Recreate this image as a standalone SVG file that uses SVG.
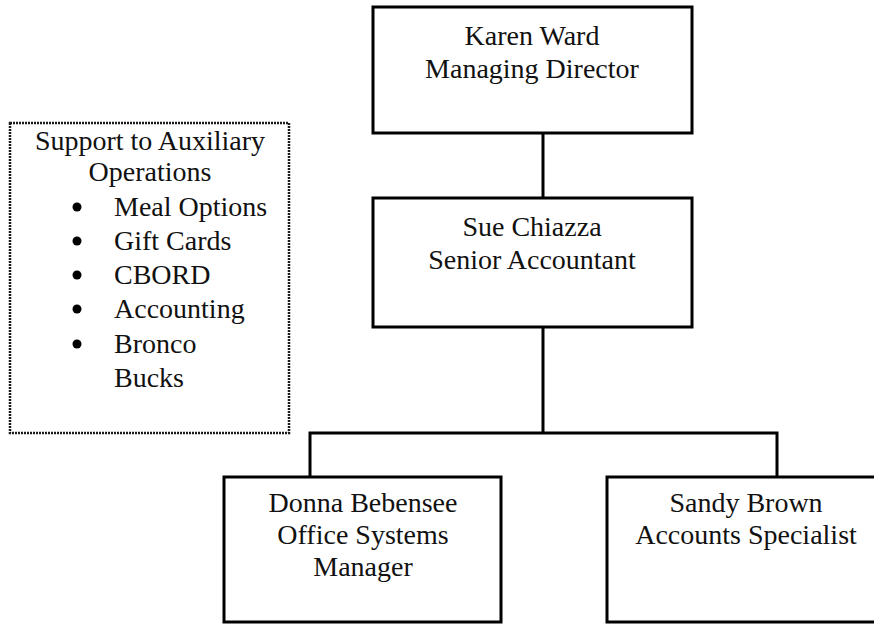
<svg xmlns="http://www.w3.org/2000/svg" width="874" height="624" viewBox="0 0 874 624">
  <style>
    .box { fill: #ffffff; stroke: #000000; stroke-width: 3; }
    .note { fill: #ffffff; stroke: #1a1a1a; stroke-width: 2.5; stroke-dasharray: 2 1; }
    .wire { fill: none; stroke: #000000; stroke-width: 3; }
    text { font-family: "Liberation Serif", "Times New Roman", serif; font-size: 28px; fill: #111111; }
    .c { text-anchor: middle; }
  </style>
  <rect width="874" height="624" fill="#ffffff"/>

  <!-- connectors -->
  <g id="connectors">
    <line class="wire" x1="543" y1="133" x2="543" y2="198"/>
    <line class="wire" x1="543" y1="327" x2="543" y2="433"/>
    <polyline class="wire" points="310,477 310,433 777,433 777,477"/>
  </g>

  <!-- side note listing supported operations -->
  <g id="support-note">
    <rect class="note" x="10" y="123" width="279" height="310"/>
    <text class="c" x="150" y="150">Support to Auxiliary</text>
    <text class="c" x="150" y="181">Operations</text>
    <g id="bullets">
      <circle cx="77" cy="207" r="4.5" fill="#000"/>
      <circle cx="77" cy="241" r="4.5" fill="#000"/>
      <circle cx="77" cy="275" r="4.5" fill="#000"/>
      <circle cx="77" cy="309" r="4.5" fill="#000"/>
      <circle cx="77" cy="344" r="4.5" fill="#000"/>
    </g>
    <text x="114" y="216">Meal Options</text>
    <text x="114" y="250">Gift Cards</text>
    <text x="114" y="284">CBORD</text>
    <text x="114" y="318">Accounting</text>
    <text x="114" y="353">Bronco</text>
    <text x="114" y="387">Bucks</text>
  </g>

  <g id="karen-ward">
    <rect class="box" x="373" y="7" width="319" height="126"/>
    <text class="c" x="532" y="45">Karen Ward</text>
    <text class="c" x="532" y="78">Managing Director</text>
  </g>

  <g id="sue-chiazza">
    <rect class="box" x="373" y="198" width="319" height="129"/>
    <text class="c" x="532" y="236">Sue Chiazza</text>
    <text class="c" x="532" y="269">Senior Accountant</text>
  </g>

  <g id="donna-bebensee">
    <rect class="box" x="224" y="477" width="277" height="145"/>
    <text class="c" x="363" y="512">Donna Bebensee</text>
    <text class="c" x="363" y="544">Office Systems</text>
    <text class="c" x="363" y="576">Manager</text>
  </g>

  <g id="sandy-brown">
    <rect class="box" x="607" y="477" width="290" height="145"/>
    <text class="c" x="746" y="512">Sandy Brown</text>
    <text class="c" x="746" y="544">Accounts Specialist</text>
  </g>
</svg>
